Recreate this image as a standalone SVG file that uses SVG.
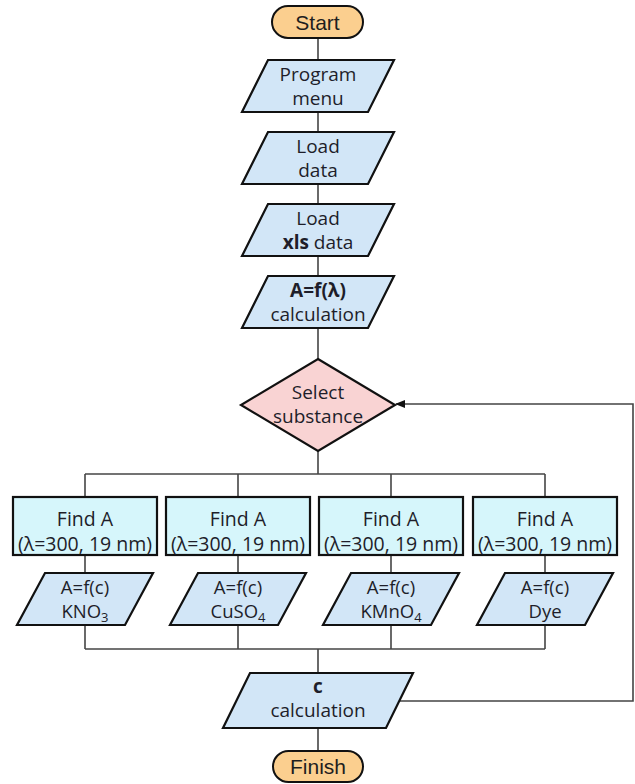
<svg xmlns="http://www.w3.org/2000/svg" width="635" height="784" viewBox="0 0 635 784">
<style>
.term{fill:#fbcf8f;stroke:#111;stroke-width:2}
.io{fill:#d2e6f7;stroke:#111;stroke-width:2.2;stroke-linejoin:miter}
.proc{fill:#d6f6fb;stroke:#111;stroke-width:2.2}
.dec{fill:#f9d3d3;stroke:#111;stroke-width:2.2}
.t{font-family:"Open Sans","Noto Sans",sans-serif;font-size:19px;fill:#1e1e2a;text-anchor:middle}
.s{font-family:"Open Sans","Noto Sans",sans-serif;font-size:18.5px;fill:#1e1e2a;text-anchor:middle}
.tt{font-family:"Liberation Sans",Arial,sans-serif;font-size:21px;fill:#1e1e1e;text-anchor:middle}
.f{font-family:"Open Sans","Noto Sans",sans-serif;font-size:19.5px;fill:#1e1e2a;text-anchor:middle}
.b{font-weight:bold}
.sub{font-size:13px}
.conn line,.conn polyline{stroke:#444;stroke-width:1.6;fill:none}
</style>
<defs>
<marker id="arr" markerWidth="10" markerHeight="8" refX="9" refY="4" orient="auto" markerUnits="userSpaceOnUse">
<path d="M0,0 L10,4 L0,8 Z" fill="#111"/>
</marker>
</defs>
<g class="conn">
<line x1="318" y1="38" x2="318" y2="60"/>
<line x1="318" y1="112" x2="318" y2="132"/>
<line x1="318" y1="184" x2="318" y2="204"/>
<line x1="318" y1="256" x2="318" y2="276"/>
<line x1="318" y1="328" x2="318" y2="359"/>
<line x1="318" y1="451" x2="318" y2="474"/>
<line x1="85" y1="474" x2="545" y2="474"/>
<line x1="85" y1="474" x2="85" y2="497"/>
<line x1="238" y1="474" x2="238" y2="497"/>
<line x1="391" y1="474" x2="391" y2="497"/>
<line x1="545" y1="474" x2="545" y2="497"/>
<line x1="85" y1="555" x2="85" y2="573"/>
<line x1="238" y1="555" x2="238" y2="573"/>
<line x1="391" y1="555" x2="391" y2="573"/>
<line x1="545" y1="555" x2="545" y2="573"/>
<line x1="85" y1="625" x2="85" y2="649"/>
<line x1="238" y1="625" x2="238" y2="649"/>
<line x1="391" y1="625" x2="391" y2="649"/>
<line x1="545" y1="625" x2="545" y2="649"/>
<line x1="85" y1="649" x2="545" y2="649"/>
<line x1="318" y1="649" x2="318" y2="673"/>
<line x1="318" y1="728" x2="318" y2="751"/>
<polyline points="400,701 633,701 633,404 396,404" marker-end="url(#arr)"/>
</g>
<g id="start">
<rect class="term" x="272" y="6" width="91" height="32" rx="16"/>
<text class="tt" x="317.5" y="29.5">Start</text>
</g>
<g id="program-menu">
<polygon class="io" points="268,60 394,60 368,112 242,112"/>
<text class="t" x="318" y="81">Program<tspan x="318" dy="24">menu</tspan></text>
</g>
<g id="load-data">
<polygon class="io" points="268,132 394,132 368,184 242,184"/>
<text class="t" x="318" y="153">Load<tspan x="318" dy="24">data</tspan></text>
</g>
<g id="load-xls">
<polygon class="io" points="268,204 394,204 368,256 242,256"/>
<text class="t" x="318" y="225">Load<tspan x="318" dy="24"><tspan class="b">xls</tspan> data</tspan></text>
</g>
<g id="calc-lambda">
<polygon class="io" points="268,276 394,276 368,328 242,328"/>
<text class="t" x="318" y="297"><tspan class="b">A=f(λ)</tspan><tspan x="318" dy="24">calculation</tspan></text>
</g>
<g id="select">
<polygon class="dec" points="318,359 395,405 318,451 241,405"/>
<text class="t" x="318" y="399">Select<tspan x="318" dy="24">substance</tspan></text>
</g>
<g id="find1">
<rect class="proc" x="13" y="497" width="144" height="58"/>
<text class="f" x="85" y="526">Find A<tspan x="85" dy="25">(λ=300, 19 nm)</tspan></text>
</g>
<g id="find2">
<rect class="proc" x="166" y="497" width="144" height="58"/>
<text class="f" x="238" y="526">Find A<tspan x="238" dy="25">(λ=300, 19 nm)</tspan></text>
</g>
<g id="find3">
<rect class="proc" x="319" y="497" width="144" height="58"/>
<text class="f" x="391" y="526">Find A<tspan x="391" dy="25">(λ=300, 19 nm)</tspan></text>
</g>
<g id="find4">
<rect class="proc" x="473" y="497" width="144" height="58"/>
<text class="f" x="545" y="526">Find A<tspan x="545" dy="25">(λ=300, 19 nm)</tspan></text>
</g>
<g id="kno3">
<polygon class="io" points="45,573 153,573 125,625 17,625"/>
<text class="s" x="85" y="594">A=f(c)<tspan x="85" dy="23.5">KNO<tspan class="sub" dy="4">3</tspan></tspan></text>
</g>
<g id="cuso4">
<polygon class="io" points="198,573 306,573 278,625 170,625"/>
<text class="s" x="238" y="594">A=f(c)<tspan x="238" dy="23.5">CuSO<tspan class="sub" dy="4">4</tspan></tspan></text>
</g>
<g id="kmno4">
<polygon class="io" points="351,573 459,573 431,625 323,625"/>
<text class="s" x="391" y="594">A=f(c)<tspan x="391" dy="23.5">KMnO<tspan class="sub" dy="4">4</tspan></tspan></text>
</g>
<g id="dye">
<polygon class="io" points="505,573 613,573 585,625 477,625"/>
<text class="s" x="545" y="594">A=f(c)<tspan x="545" dy="23.5">Dye</tspan></text>
</g>
<g id="c-calc">
<polygon class="io" points="250,673 413,673 386,728 223,728"/>
<text class="t" x="318" y="693"><tspan class="b">c</tspan><tspan x="318" dy="24">calculation</tspan></text>
</g>
<g id="finish">
<rect class="term" x="273" y="751" width="90" height="31" rx="15.5"/>
<text class="tt" x="318" y="774">Finish</text>
</g>
</svg>
